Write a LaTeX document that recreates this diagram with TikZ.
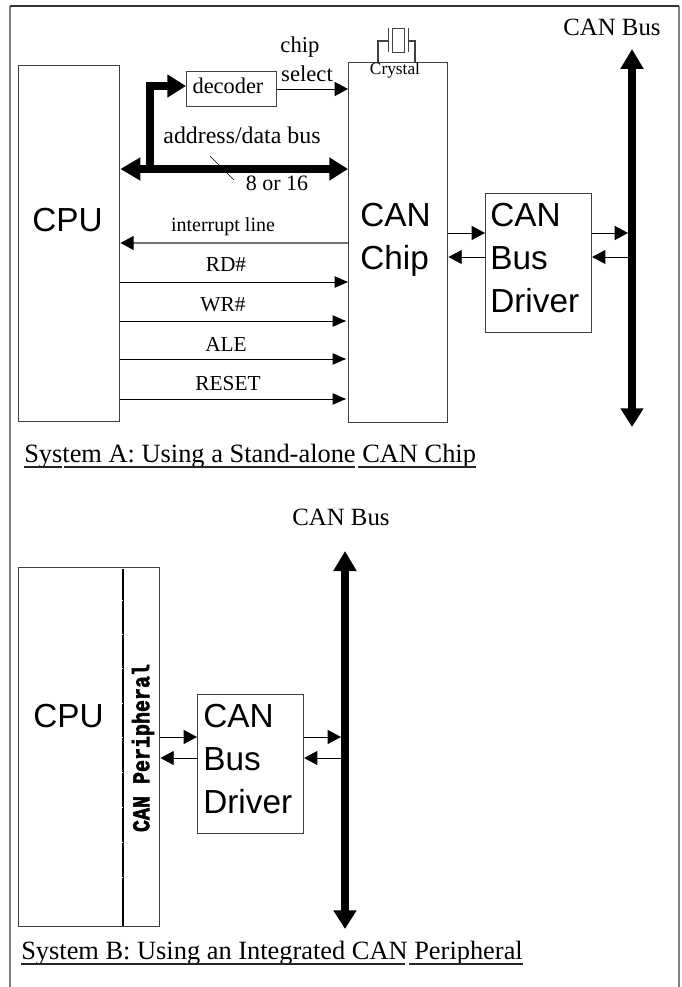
\documentclass[tikz,border=0pt]{standalone}
\usepackage{fontspec}
\setmainfont{Liberation Serif}
\setmonofont{Liberation Mono}[BoldFeatures={FakeBold=2.5}]
\newfontfamily\arialfont{Liberation Sans}
\usepackage{xcolor}
\usepackage{tikz}
\usetikzlibrary{arrows.meta}
\definecolor{frameg}{gray}{0.50}
\definecolor{lineg}{gray}{0.25}

\begin{document}
\begin{tikzpicture}[
  x=0.75pt, y=-0.75pt,
  box/.style={rectangle, draw=lineg, line width=0.8pt, inner sep=0pt, anchor=north west},
  bigtext/.style={anchor=west, align=left, inner sep=0pt, font=\arialfont\fontsize{25}{32}\selectfont},
  txt/.style={inner sep=0pt, font=\fontsize{#1}{#1}\selectfont},
  caption/.style={anchor=base west, inner sep=0pt, font=\fontsize{19.8}{22}\selectfont},
  uline/.style={line width=1.4pt, draw=black!85},
  sig/.style={-{Triangle[length=10pt,width=8.5pt]}, line width=0.7pt, draw=black},
  link/.style={-{Triangle[length=10pt,width=10.5pt]}, line width=0.7pt, draw=black},
  fat/.style={line width=6.2pt, draw=black},
  fathead/.style={fat, -{Triangle[length=14pt,width=16.5pt]}},
  bus/.style={fat, {Triangle[length=15pt,width=16.5pt]}-{Triangle[length=14pt,width=16.5pt]}}
]
\useasboundingbox (0,0) rectangle (681,987);

% outer frame, open at the bottom
\draw[frameg, line width=1.4pt] (10,987) -- (10,6);
\draw[frameg, line width=1.4pt] (679,987) -- (679,6);
\draw[black!80, line width=1pt] (10,6) -- (679,6);

% System A
\node[box, minimum width=76pt, minimum height=267pt] (cpuA) at (18,65) {};
\node[box, minimum width=74.5pt, minimum height=270pt] (chipA) at (348,62) {};
\node[box, minimum width=79.5pt, minimum height=104pt] (driverA) at (485,193) {};
\node[box, minimum width=67.5pt, minimum height=26pt] (decoder) at (186,71) {};
\coordinate (busAtop) at (632,49);
\coordinate (busAbot) at (632,427);
\coordinate (busAedge) at (628,0);
\coordinate (branch) at (150,86);
\coordinate (slashA) at (210,156);
\coordinate (slashB) at (234,180);

\node[bigtext] (cpuAtext) at (32,220) {CPU};
\node[bigtext] (chipAtext) at (360,240) {CAN\\Chip};
\node[bigtext] (driverAtext) at (490,258) {CAN\\Bus\\Driver};
\node[txt=16.8] (decodertext) at (228,86) {decoder};
\node[txt=17] (chiplab) at (300,47) {chip};
\node[txt=17] (selectlab) at (307,74) {select};
\node[txt=13] (crystallab) at (395,70) {Crystal};
\node[txt=17.9] (addrlab) at (242,135) {address/data bus};
\node[txt=16.5] (widthlab) at (277,183) {8 or 16};
\node[txt=15] (intlab) at (223,227) {interrupt line};
\node[txt=16] (rdlab) at (226,265) {RD\#};
\node[txt=16] (wrlab) at (223,305) {WR\#};
\node[txt=16] (alelab) at (226,344) {ALE};
\node[txt=16] (resetlab) at (228,384) {RESET};
\node[txt=18.6] (busAlab) at (612,27) {CAN Bus};
\node[caption] (capA) at (24,462) {System A: Using a Stand-alone CAN Chip};

\draw[fathead] (branch |- 0,172) -- (branch) -- (decoder.west |- branch);
\draw[bus] (cpuA.east |- 0,169) -- (chipA.west |- 0,169);
\draw[line width=0.5pt] (slashA) -- (slashB);
\draw[link] (decoder.east |- 0,89) -- (chipA.west |- 0,89);
\draw[link, draw=black!55, line width=1.1pt, -{Triangle[length=10pt,width=10.5pt,color=black]}] (chipA.west |- 0,243) -- (cpuA.east |- 0,243);
\draw[sig] (cpuA.east |- 0,282) -- (chipA.west |- 0,282);
\draw[sig] (cpuA.east |- 0,321) -- ([xshift=-1.5pt]chipA.west |- 0,321);
\draw[sig] (cpuA.east |- 0,359) -- ([xshift=-1.5pt]chipA.west |- 0,359);
\draw[sig] (cpuA.east |- 0,399) -- ([xshift=-1.5pt]chipA.west |- 0,399);
\draw[link] (chipA.east |- 0,233) -- (driverA.west |- 0,233);
\draw[link] (driverA.west |- 0,257) -- (chipA.east |- 0,257);
\draw[link] (driverA.east |- 0,233) -- (busAedge |- 0,233);
\draw[link] (busAedge |- 0,257) -- (driverA.east |- 0,257);
\draw[bus] (busAtop) -- (busAbot);

% crystal on top of the chip
\draw[lineg, line width=0.7pt] (392,28) rectangle (404,52);
\draw[lineg, line width=0.7pt] (388,28) -- (388,52);
\draw[lineg, line width=0.7pt] (408,28) -- (408,52);
\draw[lineg, line width=0.8pt] (378,62) -- (378,41) -- (388,41);
\draw[lineg, line width=0.8pt] (415,62) -- (415,41) -- (408,41);

\draw[uline] (24,467) -- (62,467);
\draw[uline] (64,467) -- (355,467);
\draw[uline] (358,467) -- (476,467);

% System B
\node[box, minimum width=106pt, minimum height=269pt] (cpuB) at (18,567) {};
\node[box, minimum width=79.5pt, minimum height=104pt] (driverB) at (197,694) {};
\coordinate (dividertop) at (123,569);
\coordinate (dividerbot) at (123,926);
\coordinate (busBtop) at (345,551);
\coordinate (busBbot) at (345,929);
\coordinate (busBedge) at (341,0);

\node[bigtext] (cpuBtext) at (33,716) {CPU};
\node[bigtext] (driverBtext) at (203,759) {CAN\\Bus\\Driver};
\node[anchor=center, rotate=90, yscale=1.2, inner sep=0pt, font=\ttfamily\bfseries\fontsize{15}{15}\selectfont] (perilab) at (143,748) {CAN Peripheral};
\node[txt=18.6] (busBlab) at (341,517) {CAN Bus};
\node[caption] (capB) at (21,959) {System B: Using an Integrated CAN Peripheral};

\draw[black, line width=2pt] (dividertop) -- (dividerbot);
\foreach \y in {600,634,668,703,737,772,807,842,877}
  \draw[white, line width=0.6pt] (121.5,\y) -- (123,\y);

\draw[link] (cpuB.east |- 0,737) -- (driverB.west |- 0,737);
\draw[link] (driverB.west |- 0,758) -- (cpuB.east |- 0,758);
\draw[link] (driverB.east |- 0,737) -- (busBedge |- 0,737);
\draw[link] (busBedge |- 0,758) -- (driverB.east |- 0,758);
\draw[bus] (busBtop) -- (busBbot);

\draw[uline] (21,964) -- (405,964);
\draw[uline] (409,964) -- (523,964);

\end{tikzpicture}
\end{document}
